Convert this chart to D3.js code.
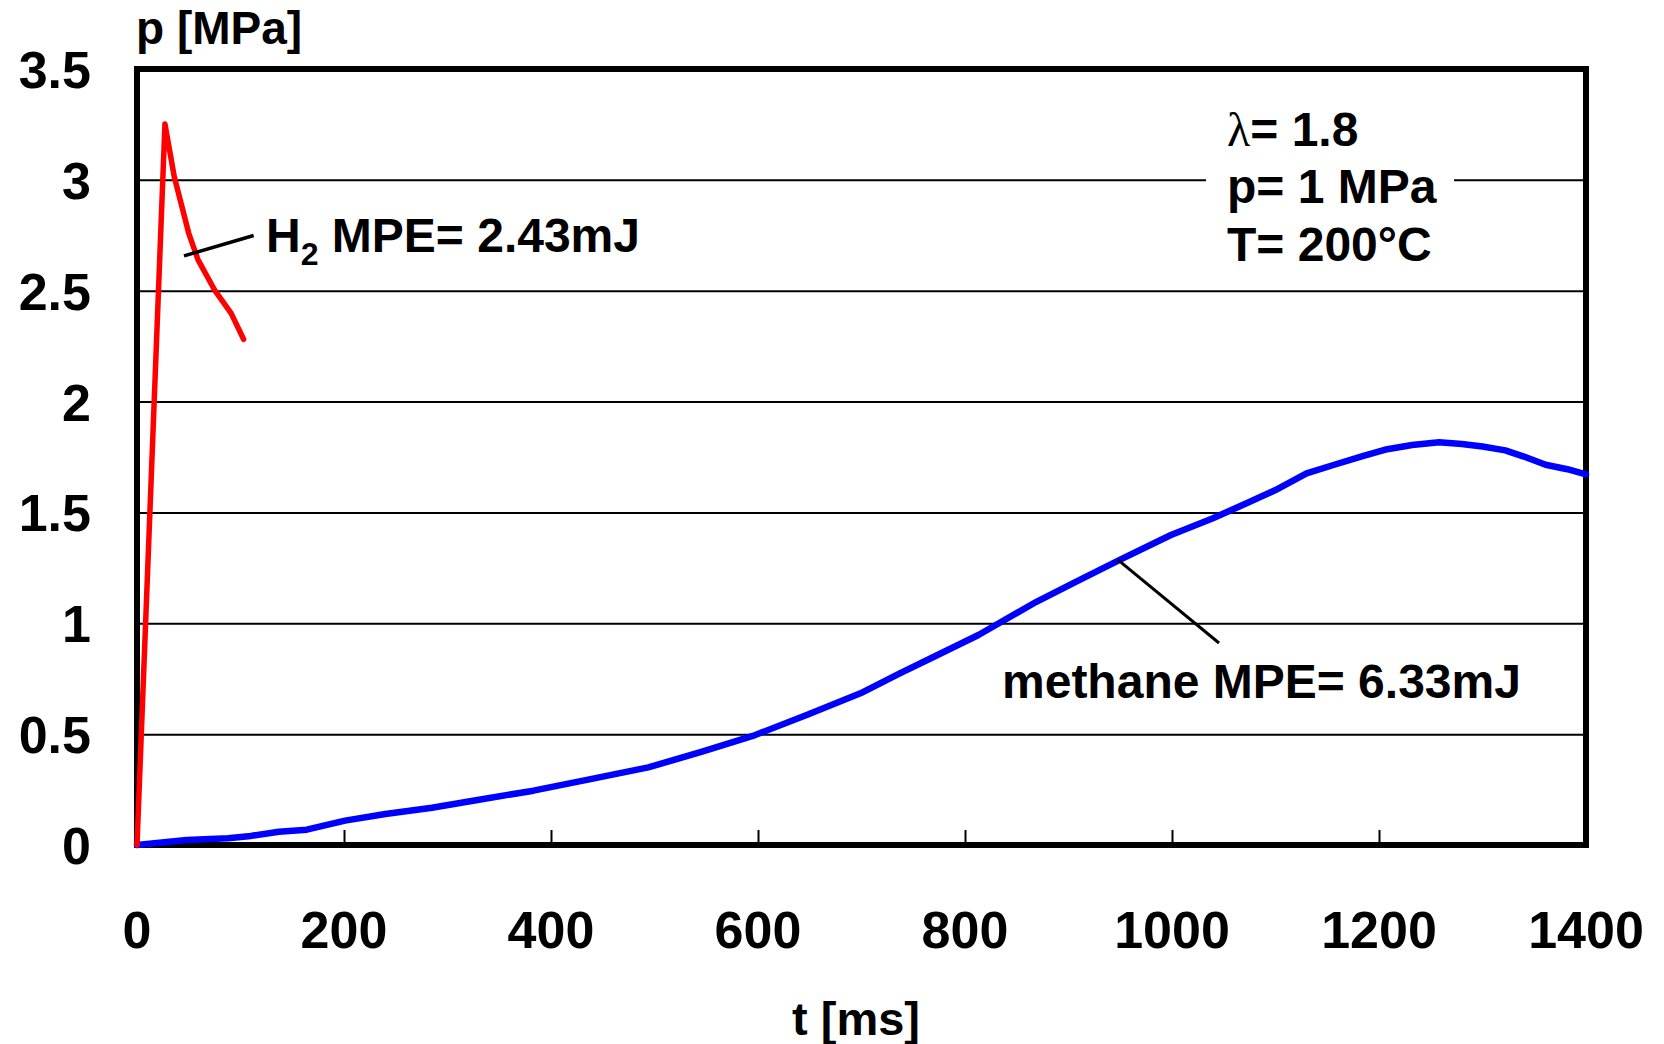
<!DOCTYPE html>
<html>
<head>
<meta charset="utf-8">
<script src="https://cdn.jsdelivr.net/npm/d3@7"></script>
<style>
  html, body { margin: 0; padding: 0; background: #fff; }
  svg { display: block; }
  text { font-family: "Liberation Sans", Arial, sans-serif; font-weight: bold; fill: #000; }
</style>
</head>
<body>
<svg id="chart" width="1664" height="1044"></svg>
<script>
// ---- data ----
const xTicks = [0, 200, 400, 600, 800, 1000, 1200, 1400];
const yTicks = [0, 0.5, 1, 1.5, 2, 2.5, 3, 3.5];
const yTickLabels = ["0", "0.5", "1", "1.5", "2", "2.5", "3", "3.5"];

const h2Time     = [0, 27, 36, 50, 59, 75, 91, 103];
const h2Pressure = [0, 3.252, 3.014, 2.759, 2.639, 2.503, 2.398, 2.281];

const ch4Time = [0, 48, 88, 110, 137, 164, 201, 240, 285, 329, 383, 437, 494, 546, 595, 647, 699, 737,
                 770, 813, 869, 907, 949, 999, 1039, 1072, 1100, 1130, 1156, 1185, 1208, 1232, 1258,
                 1280, 1300, 1322, 1340, 1361, 1382, 1400];
const ch4Pressure = [0, 0.023, 0.030, 0.041, 0.060, 0.069, 0.110, 0.140, 0.168, 0.203, 0.245, 0.296, 0.350,
                     0.421, 0.492, 0.586, 0.684, 0.774, 0.849, 0.947, 1.097, 1.187, 1.285, 1.398, 1.473,
                     1.541, 1.601, 1.676, 1.714, 1.755, 1.785, 1.804, 1.817, 1.809, 1.797, 1.780, 1.752,
                     1.715, 1.695, 1.672];

// ---- layout ----
const pL = 137, pR = 1586, pT = 69, pB = 845;
const svg = d3.select("#chart");

const x = d3.scaleLinear().domain([0, 1400]).range([pL, pR]);
const y = d3.scaleLinear().domain([0, 3.5]).range([pB, pT]);

// gridlines
const grid = d3.axisLeft(y).tickValues(yTicks.filter(v => v > 0 && v < 3.5))
  .tickSize(-(pR - pL)).tickFormat("");
const gg = svg.append("g").attr("transform", `translate(${pL},0)`).call(grid);
gg.select(".domain").remove();
gg.selectAll("line").attr("stroke", "#000").attr("stroke-width", 2);

// white box behind conditions text
svg.append("rect").attr("x", 1206).attr("y", 96).attr("width", 248).attr("height", 172).attr("fill", "#fff");

// x ticks (inside, upward)
const xa = d3.axisBottom(x).tickValues(xTicks.filter(v => v > 0 && v < 1400)).tickSize(-15).tickFormat("");
const xg = svg.append("g").attr("transform", `translate(0,${pB})`).call(xa);
xg.select(".domain").remove();
xg.selectAll("line").attr("stroke", "#000").attr("stroke-width", 2);

// x tick labels
svg.append("g").selectAll("text").data(xTicks).join("text")
  .attr("x", d => x(d)).attr("y", 948)
  .attr("text-anchor", "middle").attr("font-size", 52)
  .text(d => d);

// y tick labels
svg.append("g").selectAll("text").data(yTicks).join("text")
  .attr("x", 91).attr("y", d => y(d) + 19)
  .attr("text-anchor", "end").attr("font-size", 52)
  .text((d, i) => yTickLabels[i]);

// frame
svg.append("rect").attr("x", pL).attr("y", pT).attr("width", pR - pL).attr("height", pB - pT)
  .attr("fill", "none").attr("stroke", "#000").attr("stroke-width", 6);

// series
const line = d3.line().x(d => x(d[0])).y(d => y(d[1]));
const ch4 = ch4Time.map((t, i) => [t, ch4Pressure[i]]);
const h2 = h2Time.map((t, i) => [t, h2Pressure[i]]);

svg.append("path").datum(ch4).attr("d", line)
  .attr("fill", "none").attr("stroke", "#0000ff").attr("stroke-width", 6.5)
  .attr("stroke-linejoin", "round").attr("stroke-linecap", "round");
svg.append("path").datum(h2).attr("d", line)
  .attr("fill", "none").attr("stroke", "#ff0000").attr("stroke-width", 5.5)
  .attr("stroke-linejoin", "round").attr("stroke-linecap", "round");

// leader lines
svg.append("line").attr("x1", x(45.4)).attr("y1", y(2.657)).attr("x2", x(112.7)).attr("y2", y(2.749))
  .attr("stroke", "#000").attr("stroke-width", 3.5);
svg.append("line").attr("x1", x(947.8)).attr("y1", y(1.286)).attr("x2", x(1045.4)).attr("y2", y(0.911))
  .attr("stroke", "#000").attr("stroke-width", 3);

// annotations
const h2t = svg.append("text").attr("x", 266).attr("y", 252).attr("font-size", 48);
h2t.append("tspan").text("H");
h2t.append("tspan").attr("font-size", 32).attr("dy", 13).text("2");
h2t.append("tspan").attr("dy", -13).text(" MPE= 2.43mJ");

svg.append("text").attr("x", 1002).attr("y", 698).attr("font-size", 48).text("methane MPE= 6.33mJ");

const lam = svg.append("text").attr("x", 1227).attr("y", 146).attr("font-size", 48);
lam.append("tspan").attr("font-family", "Liberation Serif, serif").attr("font-weight", "normal").text("λ");
lam.append("tspan").text("= 1.8");
svg.append("text").attr("x", 1227).attr("y", 203).attr("font-size", 48).text("p= 1 MPa");
svg.append("text").attr("x", 1227).attr("y", 261).attr("font-size", 48).text("T= 200°C");

// axis titles
svg.append("text").attr("x", 136).attr("y", 44).attr("font-size", 46).text("p [MPa]");
svg.append("text").attr("x", 856).attr("y", 1035).attr("text-anchor", "middle").attr("font-size", 47).text("t [ms]");
</script>
</body>
</html>
